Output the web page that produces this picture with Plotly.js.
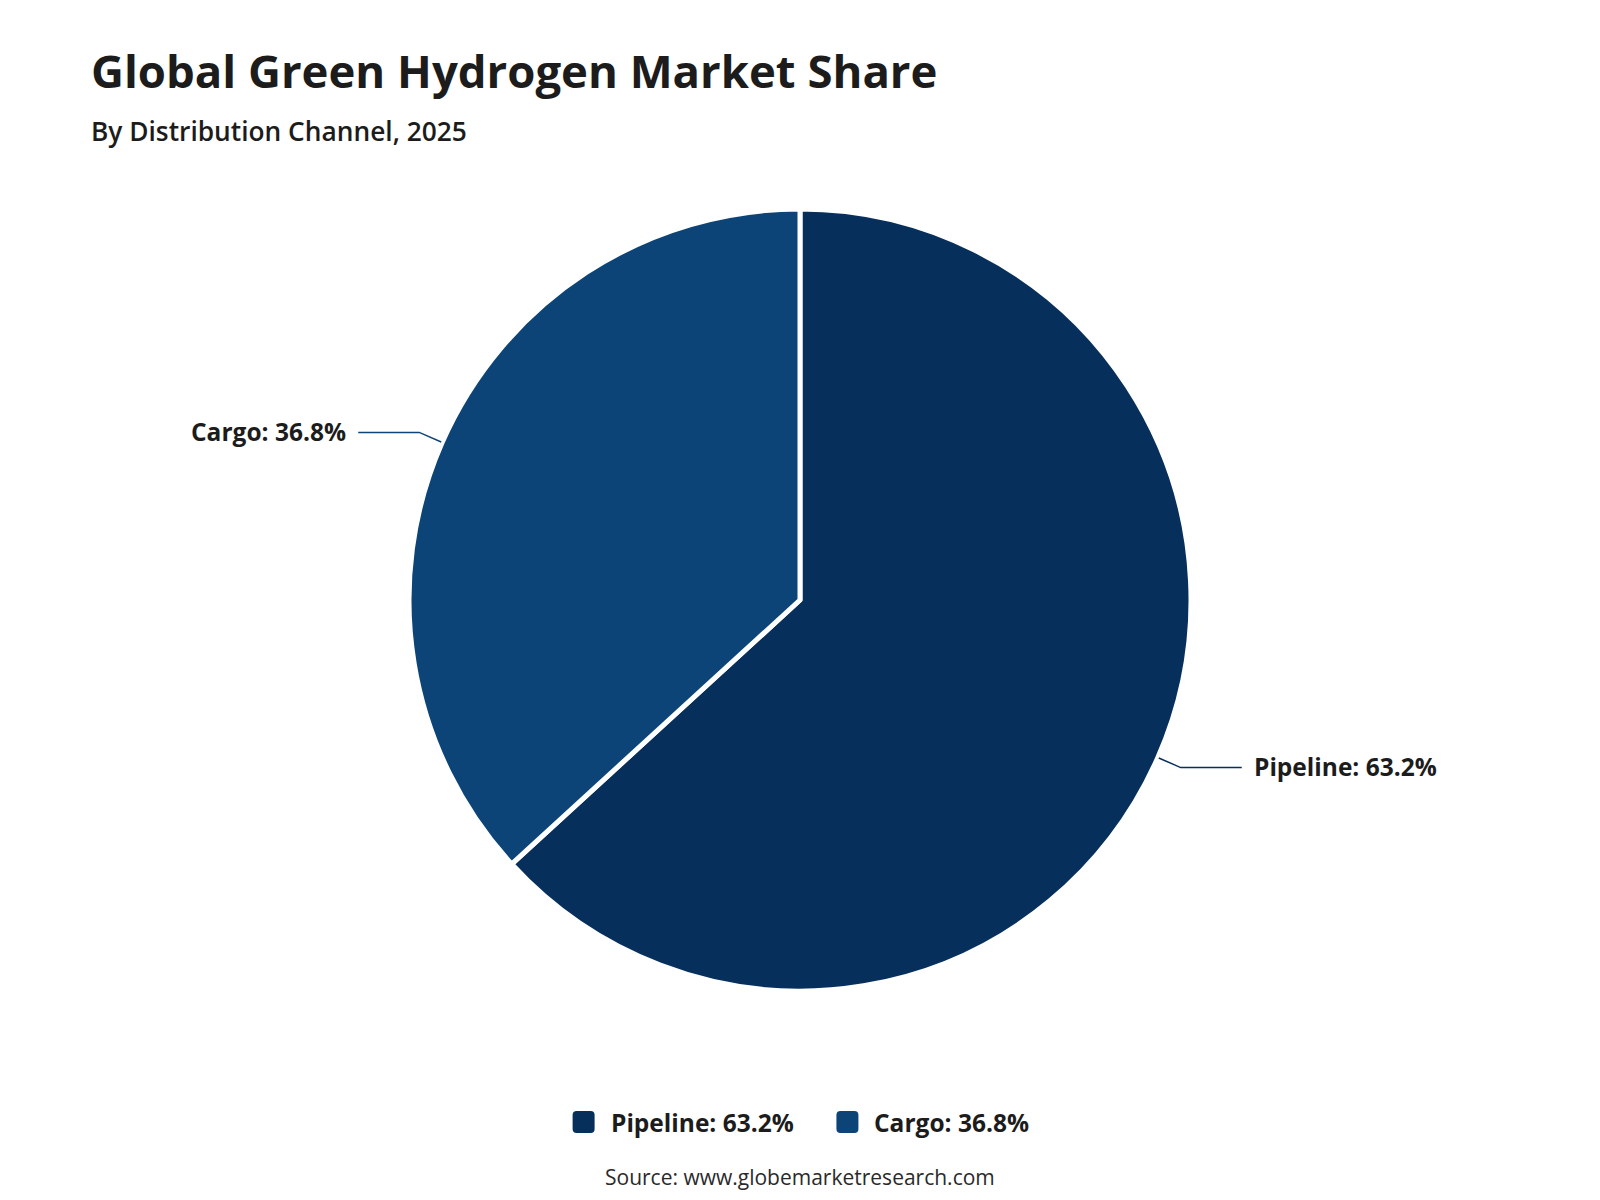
<!DOCTYPE html>
<html>
<head>
<meta charset="utf-8">
<script src="https://cdn.plot.ly/plotly-3.0.1.min.js"></script>
<style>html,body{margin:0;padding:0;background:#fff}#chart{width:1600px;height:1200px}</style>
</head>
<body>
<div id="chart"></div>
<script>
const titleText = 'Global Green Hydrogen Market Share';
const subtitleText = 'By Distribution Channel, 2025';
const sourceText = 'Source: www.globemarketresearch.com';
const labels = ['Pipeline', 'Cargo'];
const values = [63.2, 36.8];
const colors = ['#072f5c', '#0c4477'];

const W = 1600, H = 1200;
const FONT = 'Open Sans, Noto Sans, sans-serif';
const LBL = 24.5;
const cx = 800, cy = 600, R = 391;
const px = x => x / W;
const py = y => 1 - y / H;

const labelTexts = labels.map((l, i) => l + ': ' + values[i].toFixed(1) + '%');

const shapes = [];
const annotations = [];

// title & subtitle
annotations.push({xref:'paper', yref:'paper', x:px(89), y:py(70), xanchor:'left', yanchor:'middle', showarrow:false,
  text:titleText, font:{family:FONT, size:45.5, color:'#1c1c1c', weight:700}});
annotations.push({xref:'paper', yref:'paper', x:px(89), y:py(131), xanchor:'left', yanchor:'middle', showarrow:false,
  text:subtitleText, font:{family:FONT, size:26.3, color:'#1c1c1c', weight:600}});
annotations.push({xref:'paper', yref:'paper', x:px(800), y:py(1177), xanchor:'center', yanchor:'middle', showarrow:false,
  text:sourceText, font:{family:FONT, size:21, color:'#2a2a2a', weight:500}});

// leader lines and outside labels from data
const total = values.reduce((a, b) => a + b, 0);
let cum = 0;
values.forEach((v, i) => {
  const frac = (cum + v / 2) / total;
  cum += v;
  const th = 2 * Math.PI * frac;
  const sx = Math.sin(th), sy = -Math.cos(th);
  const p1 = [cx + (R + 1) * sx, cy + (R + 1) * sy];
  const p2 = [cx + (R + 25) * sx, cy + (R + 25) * sy];
  const dir = sx >= 0 ? 1 : -1;
  const p3 = [p2[0] + dir * 61, p2[1]];
  shapes.push({type:'path', xref:'paper', yref:'paper',
    path:`M ${px(p1[0])} ${py(p1[1])} L ${px(p2[0])} ${py(p2[1])} L ${px(p3[0])} ${py(p3[1])}`,
    line:{color:colors[i], width:1.5}});
  annotations.push({xref:'paper', yref:'paper', x:px(p3[0] + dir * 10), y:py(p3[1] - 1),
    xanchor: dir > 0 ? 'left' : 'right', yanchor:'middle', showarrow:false,
    text:labelTexts[i], font:{family:FONT, size:LBL, color:'#1c1c1c', weight:700}});
});

// custom legend
const ctx = document.createElement('canvas').getContext('2d');
ctx.font = '700 ' + LBL + 'px "Open Sans"';
const sq = 22, gapT = 14, gapItem = 45;
const widths = labelTexts.map(t => ctx.measureText(t).width);
const totalW = widths.reduce((a, w) => a + sq + gapT + w, 0) + gapItem * (labelTexts.length - 1);
let lx = 800 - totalW / 2;
const ly = 1122;
labelTexts.forEach((t, i) => {
  const x0 = lx, x1 = lx + sq, y0 = ly - sq / 2, y1 = ly + sq / 2, r = 4;
  const path = `M ${px(x0 + r)} ${py(y0)} L ${px(x1 - r)} ${py(y0)} Q ${px(x1)} ${py(y0)} ${px(x1)} ${py(y0 + r)} ` +
    `L ${px(x1)} ${py(y1 - r)} Q ${px(x1)} ${py(y1)} ${px(x1 - r)} ${py(y1)} L ${px(x0 + r)} ${py(y1)} ` +
    `Q ${px(x0)} ${py(y1)} ${px(x0)} ${py(y1 - r)} L ${px(x0)} ${py(y0 + r)} Q ${px(x0)} ${py(y0)} ${px(x0 + r)} ${py(y0)} Z`;
  shapes.push({type:'path', xref:'paper', yref:'paper', path:path, fillcolor:colors[i], line:{width:0}});
  annotations.push({xref:'paper', yref:'paper', x:px(x1 + gapT), y:py(ly), xanchor:'left', yanchor:'middle',
    showarrow:false, text:t, font:{family:FONT, size:LBL, color:'#1c1c1c', weight:700}});
  lx = x1 + gapT + widths[i] + gapItem;
});

const trace = {
  type:'pie', labels:labels, values:values, sort:false, direction:'clockwise', rotation:0,
  marker:{colors:colors, line:{color:'#ffffff', width:5}},
  textinfo:'none', hoverinfo:'label+percent', showlegend:false,
  domain:{x:[px(cx - R), px(cx + R)], y:[py(cy + R), py(cy - R)]}
};

const layout = {
  width:W, height:H, margin:{l:0, r:0, t:0, b:0},
  paper_bgcolor:'#ffffff', plot_bgcolor:'#ffffff', showlegend:false,
  shapes:shapes, annotations:annotations
};

Plotly.newPlot('chart', [trace], layout, {displayModeBar:false, staticPlot:true});
</script>
</body>
</html>
